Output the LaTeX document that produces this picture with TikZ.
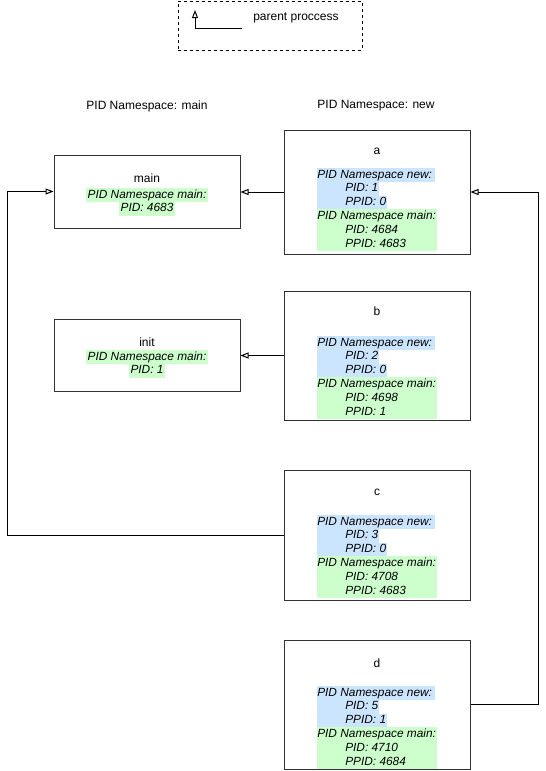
\documentclass[tikz,border=0pt]{standalone}
\usepackage{fontspec}
\setmainfont{Liberation Sans}
\usetikzlibrary{arrows.meta}
\definecolor{hlblue}{HTML}{CCE5FF}
\definecolor{hlgreen}{HTML}{CCFFCC}
\definecolor{edge}{HTML}{333333}
\tikzset{
  pbox/.style={draw=edge, line width=0.75pt, fill=white, minimum width=139.5pt, inner sep=0pt},
  conn/.style={draw=black, line width=0.75pt, -{Triangle[open, length=6pt, width=4.5pt]}},
  ln/.style={inner sep=0pt, text height=7.5pt, text depth=2.85pt, font=\fontsize{8.9}{10}\selectfont\itshape},
  ttl/.style={inner sep=0pt, anchor=base},
}
% #1 name/title, #2 top, #3 bottom, #4 title y, #5 first line y, #6 new PID, #7 new PPID, #8 main PID, #9 main PPID
\newcommand\procnode[9]{%
  \node[pbox, minimum height={(#3-#2)*0.75pt}] (#1) at (377,{(#2+#3)/2}) {};
  \node[ttl] (#1-t) at (377,#4+4) {#1};
  \node[ln, fill=hlblue, anchor=base west] (#1-n1) at (317,#5+4) {\makebox[88.5pt][l]{PID Namespace new:}};
  \node[ln, fill=hlblue, anchor=base west] (#1-n2) at (317,#5+4+13.8) {\hspace*{21pt}PID: #6\hspace*{0.5pt}};
  \node[ln, fill=hlblue, anchor=base west] (#1-n3) at (317,#5+4+27.6) {\hspace*{21pt}PPID: #7\hspace*{0.5pt}};
  \node[ln, fill=hlgreen, anchor=base west] (#1-m1) at (317,#5+4+41.4) {\makebox[90pt][l]{PID Namespace main:}};
  \node[ln, fill=hlgreen, anchor=base west] (#1-m2) at (317,#5+4+55.2) {\makebox[90pt][l]{\hspace*{21pt}PID: #8}};
  \node[ln, fill=hlgreen, anchor=base west] (#1-m3) at (317,#5+4+69) {\makebox[90pt][l]{\hspace*{21pt}PPID: #9}};
}
\begin{document}
\begin{tikzpicture}[x=0.75pt, y=-0.75pt, font=\fontsize{9}{11}\selectfont]
\useasboundingbox (0,0) rectangle (546,771);
% legend
\node[draw=black, line width=0.75pt, dash pattern=on 2.25pt off 2.25pt, minimum width=138pt, minimum height=36.75pt, inner sep=0pt] (legend) at (270,25.5) {};
\coordinate (lgA) at (242,28);
\coordinate (lgB) at (195,10);
\draw[conn] (lgA) -| (lgB);
\node[anchor=west, inner sep=0pt] (lgT) at (253,18) {parent proccess};
% headers
\node[inner sep=0pt] (hmain) at (147,106) {PID Namespace: main};
\node[inner sep=0pt] (hnew) at (376,106) {PID Namespace: new};
% main namespace boxes
\node[pbox, minimum height=54.75pt] (main) at (147,191.5) {};
\node[ttl] (main-t) at (147,182) {main};
\node[ln, fill=hlgreen, anchor=base, inner xsep=1pt] (main-m1) at (147,198) {PID Namespace main:};
\node[ln, fill=hlgreen, anchor=base, inner xsep=1pt] (main-m2) at (147,211.8) {PID: 4683};
\node[pbox, minimum height=54pt] (init) at (147,355) {};
\node[ttl] (init-t) at (147,346) {init};
\node[ln, fill=hlgreen, anchor=base, inner xsep=1pt] (init-m1) at (147,360) {PID Namespace main:};
\node[ln, fill=hlgreen, anchor=base, inner xsep=1pt] (init-m2) at (147,373.8) {PID: 1};
% new namespace boxes
\procnode{a}{130}{254}{150}{174}{1}{0}{4684}{4683}
\procnode{b}{291}{420}{311}{342}{2}{0}{4698}{1}
\procnode{c}{470}{600}{491}{521}{3}{0}{4708}{4683}
\procnode{d}{640}{769}{663}{692}{5}{1}{4710}{4684}
% connectors
\coordinate (cL) at (7,535);
\coordinate (dR) at (538,704.5);
\draw[conn] (a.west) -- (a.west -| main.east);
\draw[conn] (b.west) -- (b.west -| init.east);
\draw[conn] (c.west |- cL) -- (cL) |- (main.west);
\draw[conn] (d.east) -- (dR) |- (a.east);
\end{tikzpicture}
\end{document}
